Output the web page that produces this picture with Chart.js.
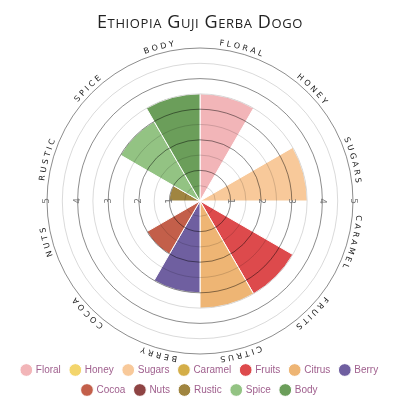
<!DOCTYPE html>
<html>
<head>
<meta charset="utf-8">
<script src="https://cdn.jsdelivr.net/npm/chart.js@4"></script>
<style>
    html, body { margin: 0; padding: 0; background: #fff; }
    #wrap { position: relative; width: 400px; height: 400px; }
    #title {
        position: absolute; left: 0; top: 9px; width: 400px;
        text-align: center; font-family: "Open Sans", sans-serif;
        font-variant: small-caps; font-size: 18px; letter-spacing: 0.6px;
        color: #222;
    }
</style>
</head>
<body>
<div id="wrap">
    <div id="title">Ethiopia Guji Gerba Dogo</div>
    <canvas id="flavourChart" width="400" height="400"></canvas>
</div>
<script>
const categories = ['Floral', 'Honey', 'Sugars', 'Caramel', 'Fruits', 'Citrus', 'Berry', 'Cocoa', 'Nuts', 'Rustic', 'Spice', 'Body'];
const scores = [3.5, 0, 3.5, 0, 3.5, 3.5, 3, 2, 0, 1, 3, 3.5];
const colours = ['#f2b5b8', '#f3d56c', '#f8c99a', '#d4ae48', '#dd4a4c', '#eeb574', '#6f5fa0', '#c35f4a', '#8e4443', '#a08540', '#93c383', '#6b9e5a'];
const tickLabels = [1, 2, 3, 4, 5];

// category names bent along the outer ring
const curvedLabels = {
    id: 'curvedLabels',
    afterDraw(chart) {
        var scale = chart.scales.r;
        var ctx = chart.ctx;
        var cx = scale.xCenter, cy = scale.yCenter;
        var radius = scale.drawingArea + 4;
        var step = Math.PI * 2 / categories.length;
        var spacing = 2.6;
        ctx.save();
        ctx.font = '8px "DejaVu Sans"';
        ctx.fillStyle = '#222';
        ctx.textAlign = 'center';
        ctx.textBaseline = 'alphabetic';
        categories.forEach(function (name, i) {
            var chars = name.toUpperCase().split('');
            var widths = chars.map(function (ch) { return ctx.measureText(ch).width; });
            var total = widths.reduce(function (a, b) { return a + b; }, 0) + spacing * (chars.length - 1);
            var angle = step * (i + 0.5) - total / 2 / radius;
            chars.forEach(function (ch, k) {
                var a = angle + widths[k] / 2 / radius;
                ctx.save();
                ctx.translate(cx + radius * Math.sin(a), cy - radius * Math.cos(a));
                ctx.rotate(a);
                ctx.fillText(ch, 0, 0);
                ctx.restore();
                angle += (widths[k] + spacing) / radius;
            });
        });

        // tick numbers along the horizontal axis, turned with the rings
        ctx.font = '9px "DejaVu Sans"';
        ctx.fillStyle = '#777';
        ctx.textBaseline = 'middle';
        tickLabels.forEach(function (v) {
            var d = scale.getDistanceFromCenterForValue(v);
            [1, -1].forEach(function (side) {
                ctx.save();
                ctx.translate(cx + side * d, cy);
                ctx.rotate(side * Math.PI / 2);
                ctx.fillText(String(v), 0, 0);
                ctx.restore();
            });
        });
        ctx.restore();
    }
};

new Chart(document.getElementById('flavourChart').getContext('2d'), {
    type: 'polarArea',
    data: {
        labels: categories,
        datasets: [{
            data: scores,
            backgroundColor: colours,
            borderColor: '#fff',
            borderWidth: 1
        }]
    },
    options: {
        responsive: false,
        animation: false,
        layout: { padding: { top: 48, bottom: -5, left: 0, right: 0 } },
        scales: {
            r: {
                min: 0,
                max: 5,
                ticks: { display: false, stepSize: 0.5 },
                grid: {
                    z: 1,
                    color: function (c) {
                        return c.tick && c.tick.value % 1 === 0 ? 'rgba(0,0,0,0.45)' : 'rgba(0,0,0,0.15)';
                    }
                }
            }
        },
        plugins: {
            legend: {
                position: 'bottom',
                labels: {
                    usePointStyle: true,
                    pointStyle: 'circle',
                    boxWidth: 9,
                    boxHeight: 9,
                    padding: 10,
                    color: '#a0608e',
                    font: { size: 10, family: 'Liberation Sans' }
                }
            },
            tooltip: { enabled: false }
        }
    },
    plugins: [curvedLabels]
});
</script>
</body>
</html>
